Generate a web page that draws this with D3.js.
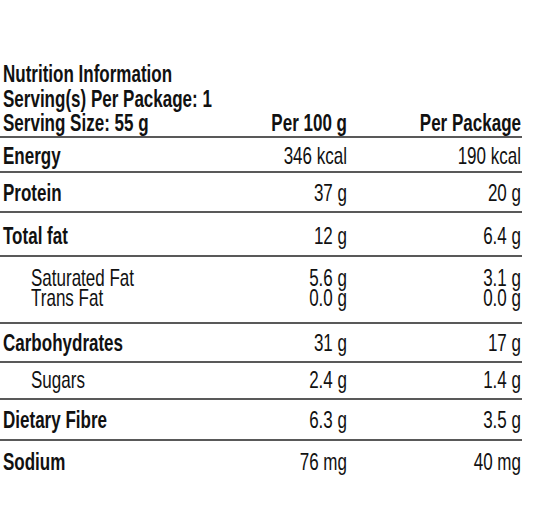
<!DOCTYPE html>
<html><head><meta charset="utf-8">
<script src="https://cdn.jsdelivr.net/npm/d3@7"></script>
<style>
body{margin:0;background:#fff}
text{font-family:"Liberation Sans",Arial,sans-serif;fill:#111}
</style></head>
<body><div id="main"></div>
<script>
const nutrients = ["Energy","Protein","Total fat","Saturated Fat","Trans Fat","Carbohydrates","Sugars","Dietary Fibre","Sodium"];
const per100 = ["346 kcal","37 g","12 g","5.6 g","0.0 g","31 g","2.4 g","6.3 g","76 mg"];
const perPackage = ["190 kcal","20 g","6.4 g","3.1 g","0.0 g","17 g","1.4 g","3.5 g","40 mg"];
const subRow = [false,false,false,true,true,false,true,false,false];
const headerLines = ["Nutrition Information","Serving(s) Per Package: 1","Serving Size: 55 g"];
const colHeads = ["Per 100 g","Per Package"];

// layout
const baseY = [164,201,244,286,306,351,388,428,470];
const ruleY = [137,172,212,256,323,362,399,440];
const col1 = 347, col2 = 521, W = 522;
const sx = 0.74, fs = 23;

const svg = d3.select("#main").append("svg").attr("width",533).attr("height",524);

// condensed text helper
function put(sel, x, anchor, weight){
  return sel.append("text")
    .attr("transform","scale("+sx+",1)")
    .attr("x",x/sx).attr("text-anchor",anchor)
    .attr("font-size",fs).attr("font-weight",weight);
}

headerLines.forEach((d,i)=>{
  put(svg.append("g").attr("transform","translate(0,"+(82+i*24.5)+")"),3,"start","bold").text(d);
});
colHeads.forEach((d,i)=>{
  put(svg.append("g").attr("transform","translate(0,131)"),i?col2:col1,"end","bold").text(d);
});

svg.selectAll("line").data(ruleY).enter().append("line")
  .attr("x1",0).attr("x2",W).attr("y1",d=>d).attr("y2",d=>d)
  .attr("stroke","#222").attr("stroke-width",1.6);

nutrients.forEach((d,i)=>{
  const g = svg.append("g").attr("transform","translate(0,"+baseY[i]+")");
  put(g, subRow[i]?31:3, "start", subRow[i]?"normal":"bold").text(d);
  put(g, col1, "end", "normal").text(per100[i]);
  put(g, col2, "end", "normal").text(perPackage[i]);
});
</script></body></html>
